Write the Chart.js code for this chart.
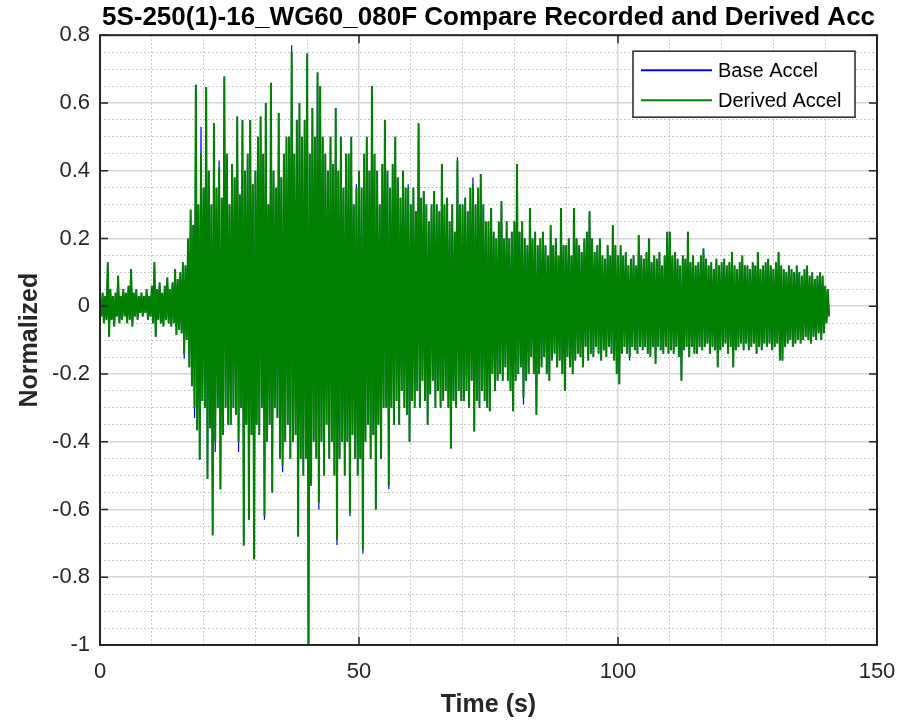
<!DOCTYPE html>
<html>
<head>
<meta charset="utf-8">
<title>5S-250(1)-16_WG60_080F Compare Recorded and Derived Acc</title>
<script src="https://cdn.jsdelivr.net/npm/chart.js@4.4.1/dist/chart.umd.min.js"></script>
<style>
  html, body { margin: 0; padding: 0; background: #ffffff; }
  #wrap { width: 897px; height: 728px; }
</style>
</head>
<body>
<div id="wrap"><canvas id="accel-chart" width="897" height="728"></canvas></div>
<script>
const chartTitle = '5S-250(1)-16_WG60_080F Compare Recorded and Derived Acc';
const seriesNames = ['Base Accel', 'Derived Accel'];
const xAxisTitle = 'Time (s)';
const yAxisTitle = 'Normalized';

// time base of the record (s)
const startTime = 0;
const timeStep = 0.25;

const xMajorTicks = [0, 50, 100, 150];
const yMajorTicks = [0.8, 0.6, 0.4, 0.2, 0, -0.2, -0.4, -0.6, -0.8, -1];

// derived accel, one row per 5 s
const derivedAccel = [
    0.02, -0.03, 0.04, -0.05, 0.03, -0.04, 0.13, -0.09, 0.05, -0.04, 0.03, -0.06, 0.04, -0.03, 0.09, -0.05, 0.03, -0.04, 0.05, -0.03,
    0.04, -0.05, 0.06, -0.04, 0.11, -0.06, 0.04, -0.03, 0.05, -0.04, 0.03, -0.02, 0.04, -0.03, 0.03, -0.02, 0.05, -0.04, 0.03, -0.03,
    0.06, -0.05, 0.13, -0.09, 0.05, -0.04, 0.07, -0.05, 0.04, -0.06, 0.06, -0.04, 0.085, -0.05, 0.05, -0.06, 0.07, -0.05, 0.11, -0.085,
    0.08, -0.07, 0.1, -0.08, 0.13, -0.142, 0.12, -0.1, 0.2, -0.18, 0.285, -0.236, 0.24, -0.3, 0.654, -0.366, 0.3, -0.453, 0.45, -0.28,
    0.35, -0.3, 0.647, -0.51, 0.4, -0.36, 0.3, -0.676, 0.54, -0.4, 0.35, -0.3, 0.41, -0.54, 0.32, -0.38, 0.678, -0.3, 0.45, -0.35,
    0.3, -0.35, 0.42, -0.3, 0.38, -0.32, 0.56, -0.4, 0.33, -0.3, 0.55, -0.706, 0.4, -0.35, 0.45, -0.63, 0.55, -0.38, 0.36, -0.747,
    0.4, -0.35, 0.5, -0.38, 0.56, -0.3, 0.45, -0.62, 0.6, -0.4, 0.3, -0.35, 0.66, -0.55, 0.4, -0.3, 0.35, -0.33, 0.57, -0.45,
    0.38, -0.47, 0.45, -0.4, 0.5, -0.35, 0.5, -0.45, 0.75, -0.4, 0.45, -0.38, 0.55, -0.68, 0.6, -0.45, 0.5, -0.5, 0.55, -0.45,
    0.746, -1.08, 0.45, -0.53, 0.585, -0.4, 0.5, -0.45, 0.69, -0.58, 0.65, -0.4, 0.5, -0.5, 0.45, -0.35, 0.4, -0.45, 0.5, -0.4,
    0.42, -0.5, 0.585, -0.69, 0.4, -0.45, 0.5, -0.4, 0.35, -0.5, 0.45, -0.4, 0.45, -0.61, 0.5, -0.38, 0.3, -0.45, 0.35, -0.5,
    0.4, -0.45, 0.35, -0.72, 0.45, -0.4, 0.5, -0.35, 0.4, -0.45, 0.65, -0.38, 0.45, -0.6, 0.4, -0.35, 0.3, -0.45, 0.42, -0.3,
    0.55, -0.3, 0.4, -0.53, 0.35, -0.3, 0.42, -0.35, 0.5, -0.28, 0.38, -0.35, 0.32, -0.25, 0.4, -0.3, 0.35, -0.32, 0.35, -0.4,
    0.3, -0.28, 0.35, -0.3, 0.28, -0.25, 0.54, -0.3, 0.32, -0.22, 0.34, -0.28, 0.3, -0.35, 0.25, -0.26, 0.3, -0.22, 0.34, -0.3,
    0.3, -0.25, 0.28, -0.3, 0.42, -0.28, 0.3, -0.25, 0.32, -0.3, 0.25, -0.42, 0.3, -0.28, 0.22, -0.3, 0.43, -0.25, 0.3, -0.28,
    0.3, -0.28, 0.32, -0.25, 0.28, -0.3, 0.35, -0.22, 0.36, -0.37, 0.3, -0.28, 0.35, -0.3, 0.39, -0.25, 0.3, -0.28, 0.25, -0.3,
    0.25, -0.31, 0.29, -0.2, 0.22, -0.25, 0.2, -0.22, 0.25, -0.2, 0.31, -0.22, 0.2, -0.18, 0.25, -0.22, 0.2, -0.25, 0.22, -0.31,
    0.25, -0.22, 0.42, -0.2, 0.22, -0.18, 0.25, -0.27, 0.2, -0.22, 0.18, -0.2, 0.29, -0.15, 0.2, -0.2, 0.22, -0.32, 0.18, -0.2,
    0.2, -0.18, 0.22, -0.15, 0.18, -0.2, 0.15, -0.22, 0.24, -0.16, 0.18, -0.14, 0.2, -0.18, 0.15, -0.16, 0.29, -0.2, 0.18, -0.25,
    0.18, -0.15, 0.2, -0.18, 0.15, -0.2, 0.29, -0.16, 0.2, -0.14, 0.18, -0.15, 0.16, -0.18, 0.2, -0.12, 0.22, -0.16, 0.28, -0.14,
    0.2, -0.15, 0.16, -0.12, 0.18, -0.14, 0.2, -0.16, 0.15, -0.13, 0.14, -0.15, 0.18, -0.12, 0.15, -0.14, 0.24, -0.16, 0.18, -0.2,
    0.15, -0.23, 0.18, -0.14, 0.15, -0.12, 0.16, -0.14, 0.12, -0.15, 0.14, -0.12, 0.15, -0.13, 0.12, -0.14, 0.21, -0.12, 0.15, -0.13,
    0.14, -0.12, 0.16, -0.14, 0.2, -0.15, 0.13, -0.12, 0.15, -0.17, 0.14, -0.12, 0.16, -0.13, 0.12, -0.14, 0.15, -0.12, 0.22, -0.14,
    0.22, -0.13, 0.15, -0.14, 0.16, -0.12, 0.14, -0.15, 0.12, -0.22, 0.15, -0.13, 0.14, -0.12, 0.22, -0.15, 0.13, -0.12, 0.15, -0.14,
    0.12, -0.14, 0.13, -0.12, 0.15, -0.13, 0.17, -0.12, 0.14, -0.11, 0.12, -0.14, 0.13, -0.12, 0.11, -0.13, 0.14, -0.18, 0.12, -0.13,
    0.13, -0.12, 0.14, -0.11, 0.12, -0.14, 0.13, -0.12, 0.16, -0.18, 0.12, -0.13, 0.11, -0.12, 0.13, -0.11, 0.15, -0.13, 0.12, -0.11,
    0.12, -0.13, 0.11, -0.12, 0.13, -0.11, 0.12, -0.14, 0.16, -0.12, 0.11, -0.13, 0.12, -0.11, 0.13, -0.12, 0.14, -0.11, 0.12, -0.13,
    0.11, -0.12, 0.13, -0.11, 0.16, -0.16, 0.12, -0.16, 0.11, -0.12, 0.1, -0.11, 0.12, -0.1, 0.11, -0.12, 0.1, -0.11, 0.12, -0.1,
    0.1, -0.11, 0.09, -0.1, 0.11, -0.09, 0.12, -0.1, 0.09, -0.11, 0.1, -0.09, 0.08, -0.1, 0.09, -0.08, 0.1, -0.1, 0.09, -0.08,
    0.06, -0.05, 0.05, -0.03
];

// places where the recorded (base) trace pokes out past the derived one: [time, value]
const baseAccelDiffs = [
    [16.25, -0.155], [18.25, -0.33], [19.5, 0.53], [22.25, -0.43], [23.0, 0.43],
    [26.75, -0.43], [31.75, -0.63], [35.25, -0.49], [37.0, 0.77], [42.25, -0.6],
    [45.75, -0.705], [48.25, -0.62], [49.5, 0.36], [50.75, -0.73], [55.75, -0.54],
    [59.5, 0.36], [69.0, 0.44], [72.0, 0.38], [81.75, -0.29], [102.25, -0.16]
];

const baseAccel = derivedAccel.slice();
baseAccelDiffs.forEach(([t, v]) => {
    baseAccel[Math.round((t - startTime) / timeStep)] = v;
});

function toPoints(values) {
    return values.map((v, i) => ({ x: startTime + i * timeStep, y: v }));
}

function isMajorX(v) {
    return xMajorTicks.some(t => Math.abs(t - v) < 1e-6);
}

function isMajorY(v) {
    return yMajorTicks.some(t => Math.abs(t - v) < 1e-6);
}

const fontFamily = '"Liberation Sans", Arial, Helvetica, sans-serif';
const axisColor = '#262626';

// box around the axes with inward ticks, like the matlab figure
const axesBoxPlugin = {
    id: 'axesBox',
    afterDatasetsDraw(chart) {
        const { ctx, chartArea: a, scales: { x, y } } = chart;
        ctx.save();
        ctx.strokeStyle = axisColor;
        ctx.lineWidth = 1.5;
        ctx.beginPath();
        xMajorTicks.forEach(v => {
            const px = x.getPixelForValue(v);
            ctx.moveTo(px, a.bottom);
            ctx.lineTo(px, a.bottom - 8);
            ctx.moveTo(px, a.top);
            ctx.lineTo(px, a.top + 8);
        });
        yMajorTicks.forEach(v => {
            const py = y.getPixelForValue(v);
            ctx.moveTo(a.left, py);
            ctx.lineTo(a.left + 8, py);
            ctx.moveTo(a.right, py);
            ctx.lineTo(a.right - 8, py);
        });
        ctx.stroke();
        ctx.lineWidth = 2;
        ctx.strokeRect(a.left, a.top, a.right - a.left, a.bottom - a.top);
        ctx.restore();
    }
};

// legend box in the upper right corner of the axes
const boxLegendPlugin = {
    id: 'boxLegend',
    afterDraw(chart) {
        const { ctx, chartArea: a } = chart;
        const w = 222, h = 66;
        const left = a.right - 22 - w;
        const top = a.top + 16;
        ctx.save();
        ctx.fillStyle = '#ffffff';
        ctx.fillRect(left, top, w, h);
        ctx.strokeStyle = axisColor;
        ctx.lineWidth = 1.5;
        ctx.strokeRect(left, top, w, h);
        ctx.font = '20px ' + fontFamily;
        ctx.textBaseline = 'middle';
        ctx.textAlign = 'left';
        chart.data.datasets.forEach((ds, i) => {
            const rowY = top + 19 + i * 30;
            ctx.strokeStyle = ds.borderColor;
            ctx.lineWidth = 2;
            ctx.beginPath();
            ctx.moveTo(left + 8, rowY);
            ctx.lineTo(left + 79, rowY);
            ctx.stroke();
            ctx.fillStyle = '#000000';
            ctx.fillText(ds.label, left + 85, rowY + 1);
        });
        ctx.restore();
    }
};

const ctx = document.getElementById('accel-chart').getContext('2d');
const chart = new Chart(ctx, {
    type: 'line',
    data: {
        datasets: [
            {
                label: seriesNames[0],
                data: toPoints(baseAccel),
                borderColor: '#0000ff',
                borderWidth: 1.2,
                pointRadius: 0,
                order: 1
            },
            {
                label: seriesNames[1],
                data: toPoints(derivedAccel),
                borderColor: '#007f00',
                borderWidth: 2,
                pointRadius: 0,
                order: 0
            }
        ]
    },
    options: {
        responsive: false,
        animation: false,
        events: [],
        layout: { padding: { left: 0, right: 20, top: 0, bottom: 0 } },
        elements: { line: { tension: 0 } },
        plugins: {
            legend: { display: false },
            tooltip: { enabled: false },
            title: {
                display: true,
                text: chartTitle,
                fullSize: false,
                color: '#000000',
                font: { family: fontFamily, size: 26, weight: 'bold', lineHeight: 1.2 },
                padding: { top: 2, bottom: 2 }
            }
        },
        scales: {
            x: {
                type: 'linear',
                min: 0,
                max: 150,
                afterFit(scale) {
                    scale.height = 83;
                    scale.paddingLeft = 0;
                    scale.paddingRight = 0;
                },
                ticks: {
                    stepSize: 10,
                    maxTicksLimit: 100,
                    autoSkip: false,
                    maxRotation: 0,
                    padding: 14,
                    color: axisColor,
                    font: { family: fontFamily, size: 22 },
                    callback: v => isMajorX(v) ? String(v) : ''
                },
                grid: {
                    drawTicks: false,
                    color: c => c.tick && isMajorX(c.tick.value) ? '#d6d6d6' : '#b8b8b8',
                    lineWidth: c => c.tick && isMajorX(c.tick.value) ? 1.5 : 1
                },
                border: {
                    display: false,
                    dash: c => c.tick && !isMajorX(c.tick.value) ? [1.5, 2.5] : []
                },
                title: {
                    display: true,
                    text: xAxisTitle,
                    color: axisColor,
                    font: { family: fontFamily, size: 25, weight: 'bold', lineHeight: 1.2 },
                    padding: { top: 0, bottom: 8 }
                }
            },
            y: {
                type: 'linear',
                min: -1,
                max: 0.8,
                afterFit(scale) {
                    scale.width = 100;
                    scale.paddingTop = 0;
                    scale.paddingBottom = 0;
                },
                ticks: {
                    stepSize: 0.05,
                    maxTicksLimit: 100,
                    autoSkip: false,
                    padding: 10,
                    color: axisColor,
                    font: { family: fontFamily, size: 22 },
                    callback: v => isMajorY(v) ? String(Math.round(v * 10) / 10) : ''
                },
                grid: {
                    drawTicks: false,
                    color: c => c.tick && isMajorY(c.tick.value) ? '#d6d6d6' : '#b8b8b8',
                    lineWidth: c => c.tick && isMajorY(c.tick.value) ? 1.5 : 1
                },
                border: {
                    display: false,
                    dash: c => c.tick && !isMajorY(c.tick.value) ? [1.5, 2.5] : []
                },
                title: {
                    display: true,
                    text: yAxisTitle,
                    color: axisColor,
                    font: { family: fontFamily, size: 25, weight: 'bold', lineHeight: 1.2 },
                    padding: { top: 15, bottom: 0 }
                }
            }
        }
    },
    plugins: [axesBoxPlugin, boxLegendPlugin]
});
</script>
</body>
</html>
